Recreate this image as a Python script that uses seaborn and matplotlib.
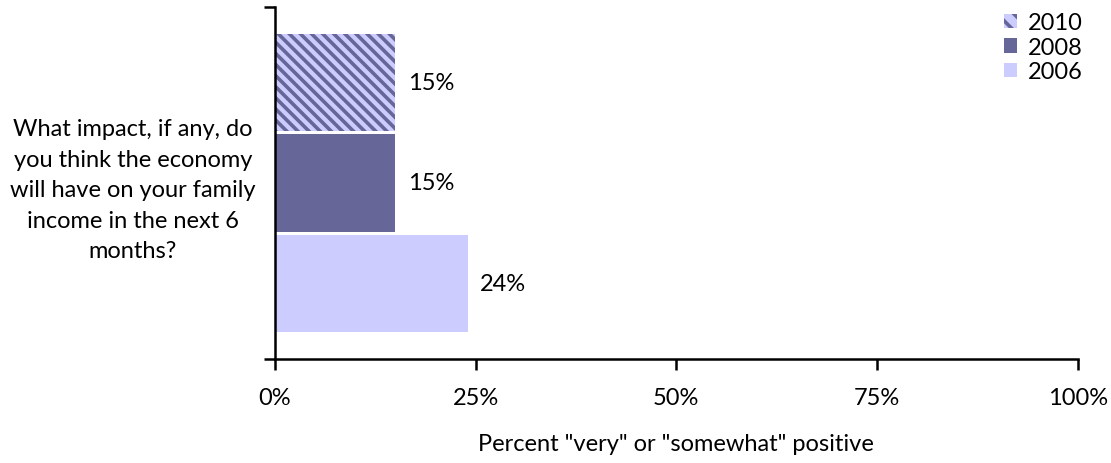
import pandas as pd
import numpy as np
import seaborn as sns
import matplotlib.pyplot as plt
import matplotlib.ticker as mticker

question = "What impact, if any, do\nyou think the economy\nwill have on your family\nincome in the next 6\nmonths?"
years = ["2010", "2008", "2006"]
values = [15, 15, 24]
colors = ["#CCCCFF", "#666699", "#CCCCFF"]

df = pd.DataFrame({"question": [question] * 3, "year": years, "value": values})

sns.set_style("ticks")
plt.rcParams["font.family"] = ["Lato", "DejaVu Sans"]
plt.rcParams["hatch.linewidth"] = 2.6
plt.rcParams["text.color"] = "black"
plt.rcParams["xtick.color"] = "black"
plt.rcParams["ytick.color"] = "black"
plt.rcParams["axes.labelcolor"] = "black"

fs = 17

fig = plt.figure(figsize=(11.11, 4.64), dpi=100)
ax = fig.add_axes([0.2475, 0.224, 0.7225, 0.759])

sns.barplot(data=df, y="question", x="value", hue="year", hue_order=years,
            palette=dict(zip(years, colors)), orient="h", gap=0.03,
            saturation=1, width=0.8, legend=False, ax=ax)

# hatch the 2010 bar
bars = ax.patches
bars[0].set_edgecolor("#666699")
bars[0].set_hatch("\\\\\\")
bars[0].set_linewidth(0)
for b in bars[1:]:
    b.set_linewidth(0)

for c in ax.containers:
    ax.bar_label(c, fmt="%d%%", padding=9, fontsize=fs)

ax.set_xlim(0, 100)
ax.set_ylim(0.468, -0.468)
ax.xaxis.set_major_locator(mticker.MultipleLocator(25))
ax.xaxis.set_major_formatter(mticker.FuncFormatter(lambda v, p: f"{v:.0f}%"))
ax.tick_params(axis="x", direction="out", length=8, width=1.8, pad=12, labelsize=fs)
ax.tick_params(axis="y", which="major", length=0, pad=14, labelsize=fs)
ax.set_yticks([-0.468, 0.468], minor=True)
ax.tick_params(axis="y", which="minor", direction="out", length=8, width=1.8)
for lab in ax.get_yticklabels():
    lab.set_multialignment("center")
    lab.set_linespacing(1.55)

ax.set_xlabel('Percent "very" or "somewhat" positive', fontsize=fs, labelpad=18)
ax.set_ylabel("")

for s in ["top", "right"]:
    ax.spines[s].set_visible(False)
for s in ["left", "bottom"]:
    ax.spines[s].set_linewidth(1.8)
    ax.spines[s].set_color("black")

handles = [plt.Rectangle((0, 0), 1, 1, facecolor=col, edgecolor="#666699" if i == 0 else col,
                         hatch="\\\\" if i == 0 else None, linewidth=0)
           for i, col in enumerate(colors)]
ax.legend(handles, years, loc="upper right", bbox_to_anchor=(1.033, 1.045), frameon=False,
          fontsize=fs, handlelength=0.55, handleheight=0.55, handletextpad=0.45,
          labelspacing=0.15)

plt.savefig("out.png", dpi=100)
